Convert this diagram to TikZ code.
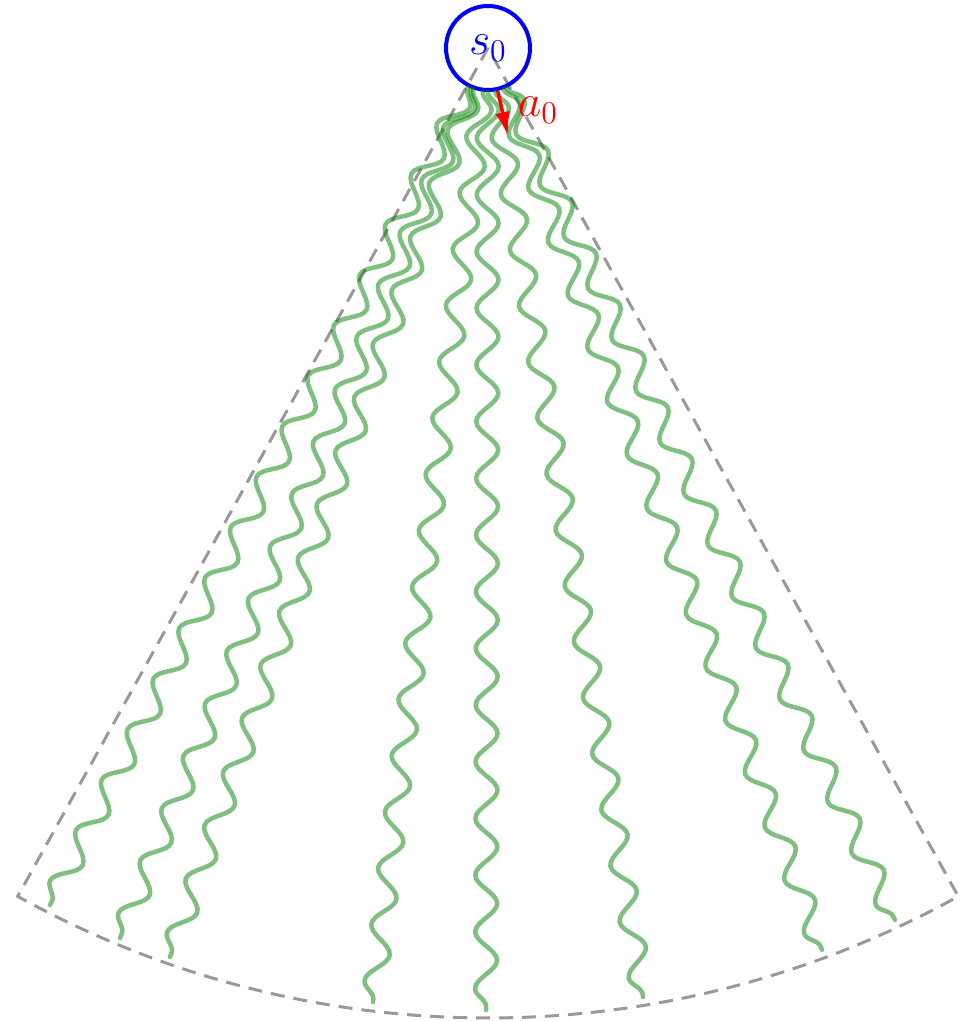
\documentclass[tikz,border=0pt]{standalone}
\usetikzlibrary{decorations.pathmorphing,arrows.meta}
\begin{document}
\begin{tikzpicture}[x=1pt,y=1pt,
  wave/.style={draw=green!50!black, draw opacity=0.5, line width=4.5pt, line cap=round, decorate, decoration={snake, segment length=56.7pt, amplitude=11pt}},
  sector/.style={draw=black!40, line width=3pt, dash pattern=on 14pt off 9pt},
  state/.style={circle, draw=blue, line width=4pt, text=blue, minimum size=84pt, inner sep=0pt, font=\huge},
  act/.style={draw=red, line width=3.5pt, -{Latex[length=24pt,width=15pt]}},
  actlabel/.style={text=red, inner sep=0pt, font=\huge},
]
\useasboundingbox (0,0) rectangle (966,1021);
\coordinate (apex) at (488,973);
\draw[sector] (apex) -- ++(241:970) arc[start angle=241,end angle=299,radius=970] -- cycle;
\node[state] (s0) at (apex) {\scalebox{2.2}{$s_0$}};
\coordinate (e1) at (50,116);
\coordinate (e2) at (120,83);
\coordinate (e3) at (170,64);
\coordinate (e4) at (373,19);
\coordinate (e5) at (486,11);
\coordinate (e6) at (643,24);
\coordinate (e7) at (822,71);
\coordinate (e8) at (895,101);
\foreach \i in {1,...,8} \draw[wave] (s0) -- (e\i);
\coordinate (a0end) at (508,885);
\draw[act] (s0) -- (a0end);
\node[actlabel] (a0) at (538,911) {\scalebox{2.2}{$a_0$}};
\end{tikzpicture}
\end{document}
